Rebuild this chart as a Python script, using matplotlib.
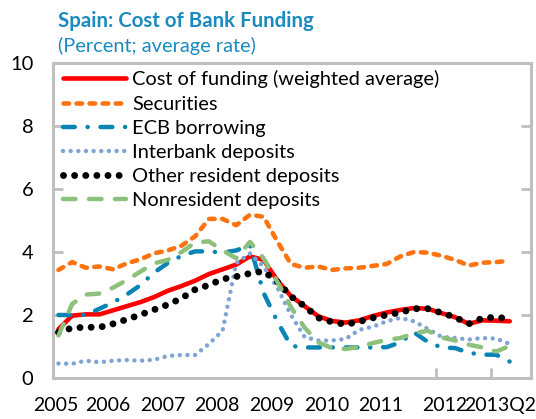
import matplotlib
matplotlib.use("Agg")
import matplotlib.pyplot as plt
import numpy as np

plt.rcParams['font.family'] = ['Lato', 'DejaVu Sans']
plt.rcParams['lines.scale_dashes'] = False

# Quarterly data, 2005Q1 .. 2013Q2
start_year = 2005.1
n_quarters = 34

cost_of_funding = [1.55, 1.98, 2.02, 2.02, 2.15, 2.28, 2.41, 2.57, 2.77, 2.92,
                   3.09, 3.30, 3.45, 3.60, 3.86, 3.75, 3.10, 2.60, 2.28, 1.96,
                   1.81, 1.76, 1.83, 1.97, 2.08, 2.16, 2.22, 2.20, 2.06, 1.93,
                   1.72, 1.83, 1.82, 1.80]
securities = [3.43, 3.68, 3.50, 3.54, 3.45, 3.64, 3.77, 3.96, 4.05, 4.20,
              4.50, 5.05, 5.05, 4.85, 5.18, 5.12, 4.34, 3.62, 3.50, 3.54,
              3.43, 3.48, 3.50, 3.56, 3.62, 3.86, 4.00, 3.98, 3.88, 3.75,
              3.57, 3.66, 3.68, 3.72]
ecb_borrowing = [2.00, 2.00, 2.00, 2.20, 2.40, 2.65, 2.95, 3.35, 3.65, 3.88,
                 4.02, 4.02, 3.98, 4.05, 4.22, 2.70, 1.80, 1.02, 0.97, 0.97,
                 0.97, 0.97, 0.97, 0.97, 0.98, 1.13, 1.45, 1.15, 0.97, 0.95,
                 0.80, 0.74, 0.74, 0.52]
interbank = [0.46, 0.45, 0.55, 0.50, 0.55, 0.57, 0.55, 0.58, 0.70, 0.73,
             0.73, 1.08, 1.50, 3.65, 3.95, 3.54, 2.87, 2.00, 1.30, 1.19,
             1.19, 1.24, 1.53, 1.63, 1.80, 1.91, 1.80, 1.56, 1.31, 1.27,
             1.22, 1.27, 1.25, 1.08]
other_resident = [1.45, 1.59, 1.61, 1.61, 1.72, 1.86, 2.01, 2.17, 2.33, 2.53,
                  2.81, 2.95, 3.14, 3.22, 3.32, 3.39, 3.06, 2.59, 2.28, 1.91,
                  1.78, 1.70, 1.79, 1.91, 2.00, 2.08, 2.20, 2.20, 2.07, 1.93,
                  1.72, 1.90, 1.93, 1.88]
nonresident = [1.35, 2.35, 2.65, 2.68, 2.87, 3.11, 3.38, 3.64, 3.75, 4.00,
               4.30, 4.34, 4.05, 3.80, 4.32, 3.80, 3.06, 2.25, 1.60, 1.13,
               0.95, 0.92, 0.99, 1.11, 1.21, 1.27, 1.42, 1.50, 1.29, 1.19,
               1.06, 0.97, 0.84, 1.02]

series_labels = ["Cost of funding (weighted average)", "Securities", "ECB borrowing",
                 "Interbank deposits", "Other resident deposits", "Nonresident deposits"]
tick_labels = ["2005", "2006", "2007", "2008", "2009", "2010", "2011", "2012", "2013Q2"]
tick_label_pos = [2005.05, 2006.0, 2007.0, 2008.0, 2009.0, 2010.0, 2011.0, 2012.17, 2013.17]
year_marks = [2006, 2007, 2008, 2009, 2010, 2011, 2012, 2013]

x = start_year + 0.25 * np.arange(n_quarters)

W, H = 536, 419
fig = plt.figure(figsize=(W / 100, H / 100), dpi=100)
ax = fig.add_axes([53 / W, 1 - 378 / H, (531 - 53) / W, (378 - 63) / H])

spine_col = "#BFBFBF"
ax.plot(x, cost_of_funding, color="#FF0000", lw=3.3, solid_capstyle="round",
        solid_joinstyle="round", label=series_labels[0], zorder=3)
ax.plot(x, securities, color="#FF7410", lw=3.3, dashes=(4.0, 5.4),
        dash_capstyle="round", label=series_labels[1], zorder=3)
ax.plot(x, ecb_borrowing, color="#0A84B4", lw=3.2, dashes=(8.5, 9.2, 0.1, 9.2),
        dash_capstyle="round", label=series_labels[2], zorder=3)
ax.plot(x, interbank, color="#7EA4D6", lw=3.2, dashes=(0.01, 5.5),
        dash_capstyle="round", label=series_labels[3], zorder=3)
ax.plot(x, other_resident, color="#000000", lw=5.0, dashes=(0.01, 8.0),
        dash_capstyle="round", label=series_labels[4], zorder=3)
ax.plot(x, nonresident, color="#8DC17B", lw=3.2, dashes=(9.0, 9.7),
        dash_capstyle="round", label=series_labels[5], zorder=3)

ax.set_ylim(0, 10)
ax.set_xlim(2005, 2005 + (531 - 53) / 54.7)
ax.set_yticks([0, 2, 4, 6, 8, 10])
ax.set_yticklabels(["0", "2", "4", "6", "8", "10"])
ax.tick_params(axis="y", which="major", direction="in", length=7, width=2,
               color=spine_col, labelsize=14.5, pad=14, left=True, right=True)

ax.set_xticks(tick_label_pos)
ax.set_xticklabels(tick_labels)
ax.tick_params(axis="x", which="major", length=0, labelsize=14, pad=14)
ax.set_xticks(year_marks, minor=True)
ax.tick_params(axis="x", which="minor", direction="in", length=7, width=2,
               color=spine_col)

for s in ax.spines.values():
    s.set_color(spine_col)
    s.set_linewidth(2.2)

leg = ax.legend(loc="upper left", bbox_to_anchor=(0.021, 0.977), frameon=False,
                fontsize=14.4, handlelength=3.15, handletextpad=0.3,
                labelspacing=0.36, borderpad=0.0, borderaxespad=0.0)

title_col = "#1A8BBF"
fig.text(58 / W, 1 - 21 / H, "Spain: Cost of Bank Funding", color=title_col,
         fontsize=14.7, fontweight="bold", va="center", ha="left")
fig.text(58 / W, 1 - 46 / H, "(Percent; average rate)", color=title_col,
         fontsize=14.4, va="center", ha="left")

fig.savefig("out.png", dpi=100)
